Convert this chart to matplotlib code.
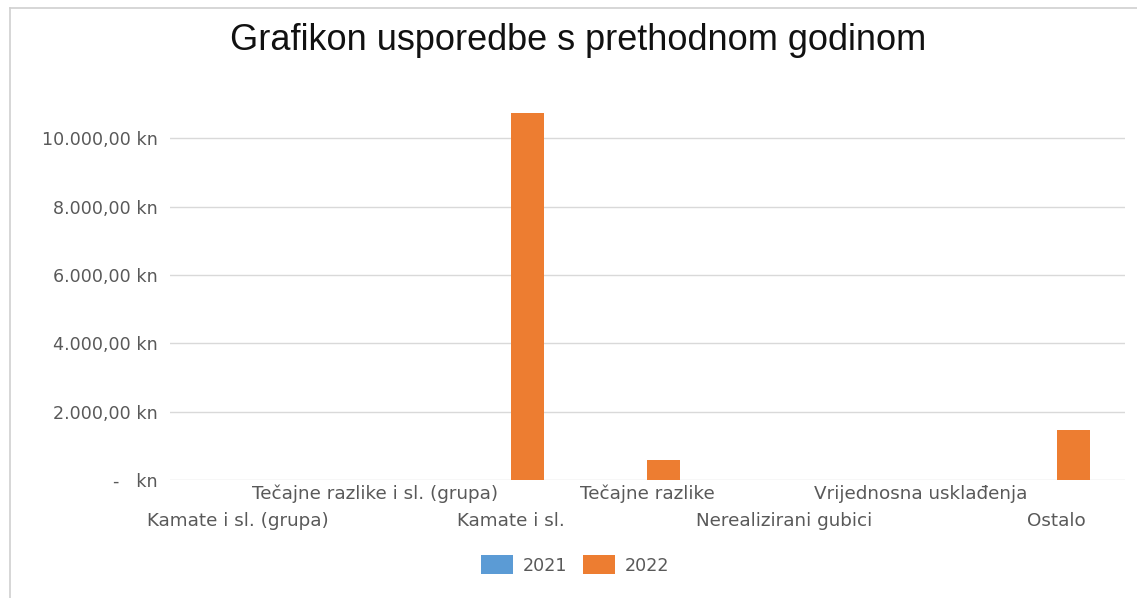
import numpy as np
import matplotlib
matplotlib.use("Agg")
import matplotlib.pyplot as plt
from matplotlib.patches import Patch
from matplotlib.lines import Line2D

categories = ["Kamate i sl. (grupa)", "Tečajne razlike i sl. (grupa)", "Kamate i sl.",
              "Tečajne razlike", "Nerealizirani gubici", "Vrijednosna usklađenja", "Ostalo"]
values_2021 = [0, 0, 0, 0, 0, 0, 0]
values_2022 = [0, 0, 10730, 590, 0, 0, 1450]
series_names = ["2021", "2022"]
yticks = [0, 2000, 4000, 6000, 8000, 10000]
ytick_labels = ["-   kn", "2.000,00 kn", "4.000,00 kn", "6.000,00 kn", "8.000,00 kn", "10.000,00 kn"]

blue = "#5B9BD5"
orange = "#ED7D31"
grey_text = "#595959"

fig = plt.figure(figsize=(11.37, 5.98), dpi=100)
ax = fig.add_axes([0.1495, 0.1973, 0.8399, 0.6288])

x = np.arange(len(categories))
w = 0.242
ax.bar(x - w / 2, values_2021, w, color=blue)
ax.bar(x + w / 2, values_2022, w, color=orange)

ax.set_xlim(-0.5, len(categories) - 0.5)
ax.set_ylim(0, 11000)
ax.set_yticks(yticks)
ax.set_yticklabels(ytick_labels, fontsize=12.6, color=grey_text, family="DejaVu Sans")
ax.tick_params(axis="y", length=0, pad=9)
ax.set_xticks([])
ax.grid(axis="y", color="#D9D9D9", linewidth=1)
ax.set_axisbelow(True)
for sp in ["top", "right", "left", "bottom"]:
    ax.spines[sp].set_visible(False)

# alternating category labels (two rows, like the original)
for i, name in enumerate(categories):
    off = -10 if i % 2 == 1 else -29.5
    ax.annotate(name, xy=(i, 0), xycoords=("data", "axes fraction"),
                xytext=(0, off), textcoords="offset points",
                ha="center", va="center", fontsize=13.2, color=grey_text,
                family="DejaVu Sans")

fig.text(578 / 1137, 1 - 40 / 598, "Grafikon usporedbe s prethodnom godinom",
         ha="center", va="center", fontsize=26, family="Liberation Sans", color="#111111")

handles = [Patch(facecolor=blue, label=series_names[0]),
           Patch(facecolor=orange, label=series_names[1])]
leg = fig.legend(handles=handles, loc="center", ncol=2,
                 bbox_to_anchor=(575 / 1137, 1 - 565 / 598),
                 frameon=False, fontsize=12.6, handlelength=1.83, handleheight=1.26,
                 handletextpad=0.55, columnspacing=0.9)
for t in leg.get_texts():
    t.set_color(grey_text)

# frame lines of the chart area
fig.add_artist(Line2D([10 / 1137, 10 / 1137], [0, 1 - 8 / 598], color="#D0D0D0", lw=1.2))
fig.add_artist(Line2D([10 / 1137, 1], [1 - 8 / 598, 1 - 8 / 598], color="#D0D0D0", lw=1.2))

fig.savefig("out.png", dpi=100)
